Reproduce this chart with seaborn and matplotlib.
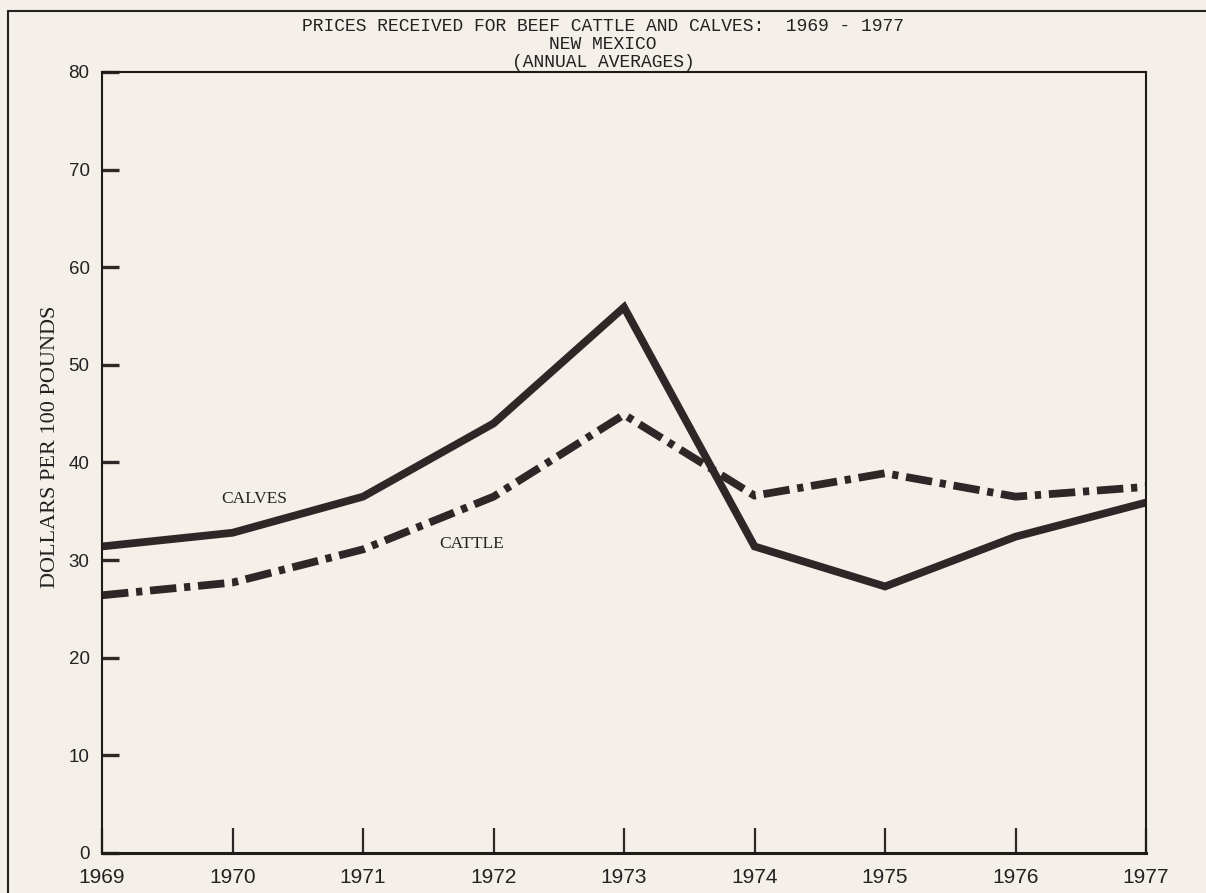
import numpy as np
import pandas as pd
import matplotlib
matplotlib.use('Agg')
import matplotlib.pyplot as plt
import seaborn as sns

# Values (dollars per 100 pounds)
years = [1969, 1970, 1971, 1972, 1973, 1974, 1975, 1976, 1977]
calves = [31.4, 32.8, 36.5, 44.0, 55.9, 31.4, 27.3, 32.4, 35.9]
cattle = [26.4, 27.7, 31.1, 36.5, 44.9, 36.6, 38.9, 36.5, 37.5]
y_ticks = [0, 10, 20, 30, 40, 50, 60, 70, 80]

paper = '#f4efe8'
ink = '#2f2727'

sns.set_style('white')
plt.rcParams['font.family'] = ['Liberation Sans', 'DejaVu Sans']

df = pd.DataFrame({
    'year': years * 2,
    'price': calves + cattle,
    'series': ['CALVES'] * len(years) + ['CATTLE'] * len(years),
})

fig = plt.figure(figsize=(12.06, 8.93), dpi=100, facecolor=paper)
ax = fig.add_axes([0.0846, 0.0448, 0.8657, 0.8746])
ax.set_facecolor(paper)

sns.lineplot(data=df, x='year', y='price', style='series',
             dashes={'CALVES': '', 'CATTLE': (3.4, 1.0, 0.8, 1.0)},
             color=ink, lw=5.6, legend=False, ax=ax)
for line in ax.get_lines():
    line.set_solid_capstyle('butt')
    line.set_dash_capstyle('butt')
    line.set_solid_joinstyle('miter')

ax.set_xlim(1969, 1977)
ax.set_ylim(0, 80)
ax.set_xticks(years)
ax.set_xticklabels([str(y) for y in years], fontsize=15, fontstretch='condensed')
ax.set_yticks(y_ticks)
ax.set_yticklabels([str(v) for v in y_ticks], fontsize=13.5)
ax.tick_params(axis='x', bottom=True, direction='in', length=18, width=1.6,
               pad=11, colors=ink, labelcolor='#222')
ax.tick_params(axis='y', left=True, direction='in', length=12, width=2.4,
               pad=9, colors=ink, labelcolor='#222')
for s in ax.spines.values():
    s.set_color('#1e1a1a')
    s.set_linewidth(1.5)
ax.spines['bottom'].set_linewidth(2.2)

ax.set_xlabel('')
ax.set_ylabel('DOLLARS PER 100 POUNDS', family='Liberation Serif',
              fontsize=16, color='#222')
ax.yaxis.set_label_coords(-0.040, 0.52)

ax.text(1970.17, 36.3, 'CALVES', family='Liberation Serif', fontsize=12.5,
        ha='center', va='center', color='#222')
ax.text(1971.83, 31.7, 'CATTLE', family='Liberation Serif', fontsize=12.5,
        ha='center', va='center', color='#222')

title_kw = dict(family='Liberation Mono', fontsize=13, ha='center',
                va='center', color='#222')
fig.text(0.50, 0.970, 'PRICES RECEIVED FOR BEEF CATTLE AND CALVES:  1969 - 1977',
         **title_kw)
fig.text(0.50, 0.950, 'NEW MEXICO', **title_kw)
fig.text(0.50, 0.930, '(ANNUAL AVERAGES)', **title_kw)

# page frame of the scanned sheet
fig.add_artist(plt.Line2D([0.0065, 0.0065], [0.0, 0.988], color='#222', lw=1.5))
fig.add_artist(plt.Line2D([0.0065, 1.0], [0.988, 0.988], color='#222', lw=1.5))

fig.savefig('out.png', dpi=100, facecolor=paper)
